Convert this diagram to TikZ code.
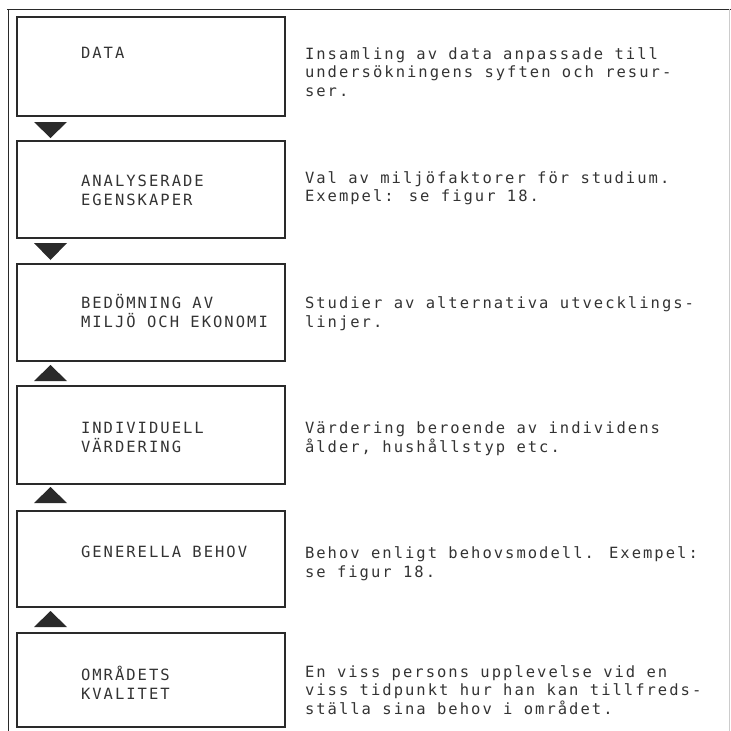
\documentclass[tikz,border=0pt]{standalone}
\usepackage{fontspec}
\usetikzlibrary{calc}
\newfontfamily\typer{DejaVu Sans Mono}[LetterSpace=13]
\newcommand\tw[1]{\typer\fontsize{15.5pt}{#1pt}\selectfont}
\definecolor{ink}{HTML}{2A2A2A}
\definecolor{type}{HTML}{333333}
\begin{document}
\begin{tikzpicture}[x=1pt,y=-1pt,
  stage/.style={draw=ink, line width=1.3pt, minimum width=268pt, inner sep=0pt, outer sep=0pt},
  lbl/.style={anchor=base west, inner sep=0pt, outer sep=0pt, align=left, text=type},
  flowhead/.style={fill=ink}]
\useasboundingbox (0,0) rectangle (731,731);

% page frame
\draw[ink, line width=1.2pt] (7,9.5) -- (731,9.5);
\draw[ink, line width=1.4pt] (8.5,9) -- (8.5,731);
\draw[black!20, line width=0.8pt] (729.5,9) -- (729.5,731);

% stages
\node[stage, minimum height=99pt] (b1) at (151,66.5) {};
\node[stage, minimum height=97pt] (b2) at (151,189.5) {};
\node[stage, minimum height=97pt] (b3) at (151,312.5) {};
\node[stage, minimum height=98pt] (b4) at (151,435) {};
\node[stage, minimum height=96pt] (b5) at (151,559) {};
\node[stage, minimum height=94pt] (b6) at (151,680) {};

% flow heads between the stages
\fill[flowhead] ($(b1.south west)+(17,6)$) -- ($(b1.south west)+(50,6)$) -- ($(b1.south west)+(33.5,22)$) -- cycle;
\fill[flowhead] ($(b2.south west)+(17,5)$) -- ($(b2.south west)+(50,5)$) -- ($(b2.south west)+(33.5,22)$) -- cycle;
\fill[flowhead] ($(b4.north west)+(17,-5)$) -- ($(b4.north west)+(50,-5)$) -- ($(b3.south west)+(33.5,4)$) -- cycle;
\fill[flowhead] ($(b5.north west)+(17,-8)$) -- ($(b5.north west)+(50,-8)$) -- ($(b4.south west)+(33.5,3)$) -- cycle;
\fill[flowhead] ($(b6.north west)+(17,-6)$) -- ($(b6.north west)+(50,-6)$) -- ($(b5.south west)+(33.5,4)$) -- cycle;

% stage names (anchored at the baseline of the last line)
\node[lbl, font=\tw{19.5}] (n1) at (81,58) {DATA};
\node[lbl, font=\tw{19.5}] (n2) at (81,205.5) {ANALYSERADE\\EGENSKAPER};
\node[lbl, font=\tw{19.5}] (n3) at (81,327.5) {BEDÖMNING AV\\MILJÖ OCH EKONOMI};
\node[lbl, font=\tw{19.5}] (n4) at (81,452.5) {INDIVIDUELL\\VÄRDERING};
\node[lbl, font=\tw{19.5}] (n5) at (81,557) {GENERELLA BEHOV};
\node[lbl, font=\tw{19.5}] (n6) at (81,699.5) {OMRÅDETS\\KVALITET};

% descriptions
\node[lbl, font=\tw{18.5}] (d1) at (305,96) {Insamling av data anpassade till\\undersökningens syften och resur-\\ser.};
\node[lbl, font=\tw{18.5}] (d2) at (305,201.5) {Val av miljöfaktorer för studium.\\Exempel: se figur 18.};
\node[lbl, font=\tw{18.5}] (d3) at (305,327) {Studier av alternativa utvecklings-\\linjer.};
\node[lbl, font=\tw{18.5}] (d4) at (305,452) {Värdering beroende av individens\\ålder, hushållstyp etc.};
\node[lbl, font=\tw{18.5}] (d5) at (305,577) {Behov enligt behovsmodell. Exempel:\\se figur 18.};
\node[lbl, font=\tw{18.5}] (d6) at (305,714) {En viss persons upplevelse vid en\\viss tidpunkt hur han kan tillfreds-\\ställa sina behov i området.};
\end{tikzpicture}
\end{document}
